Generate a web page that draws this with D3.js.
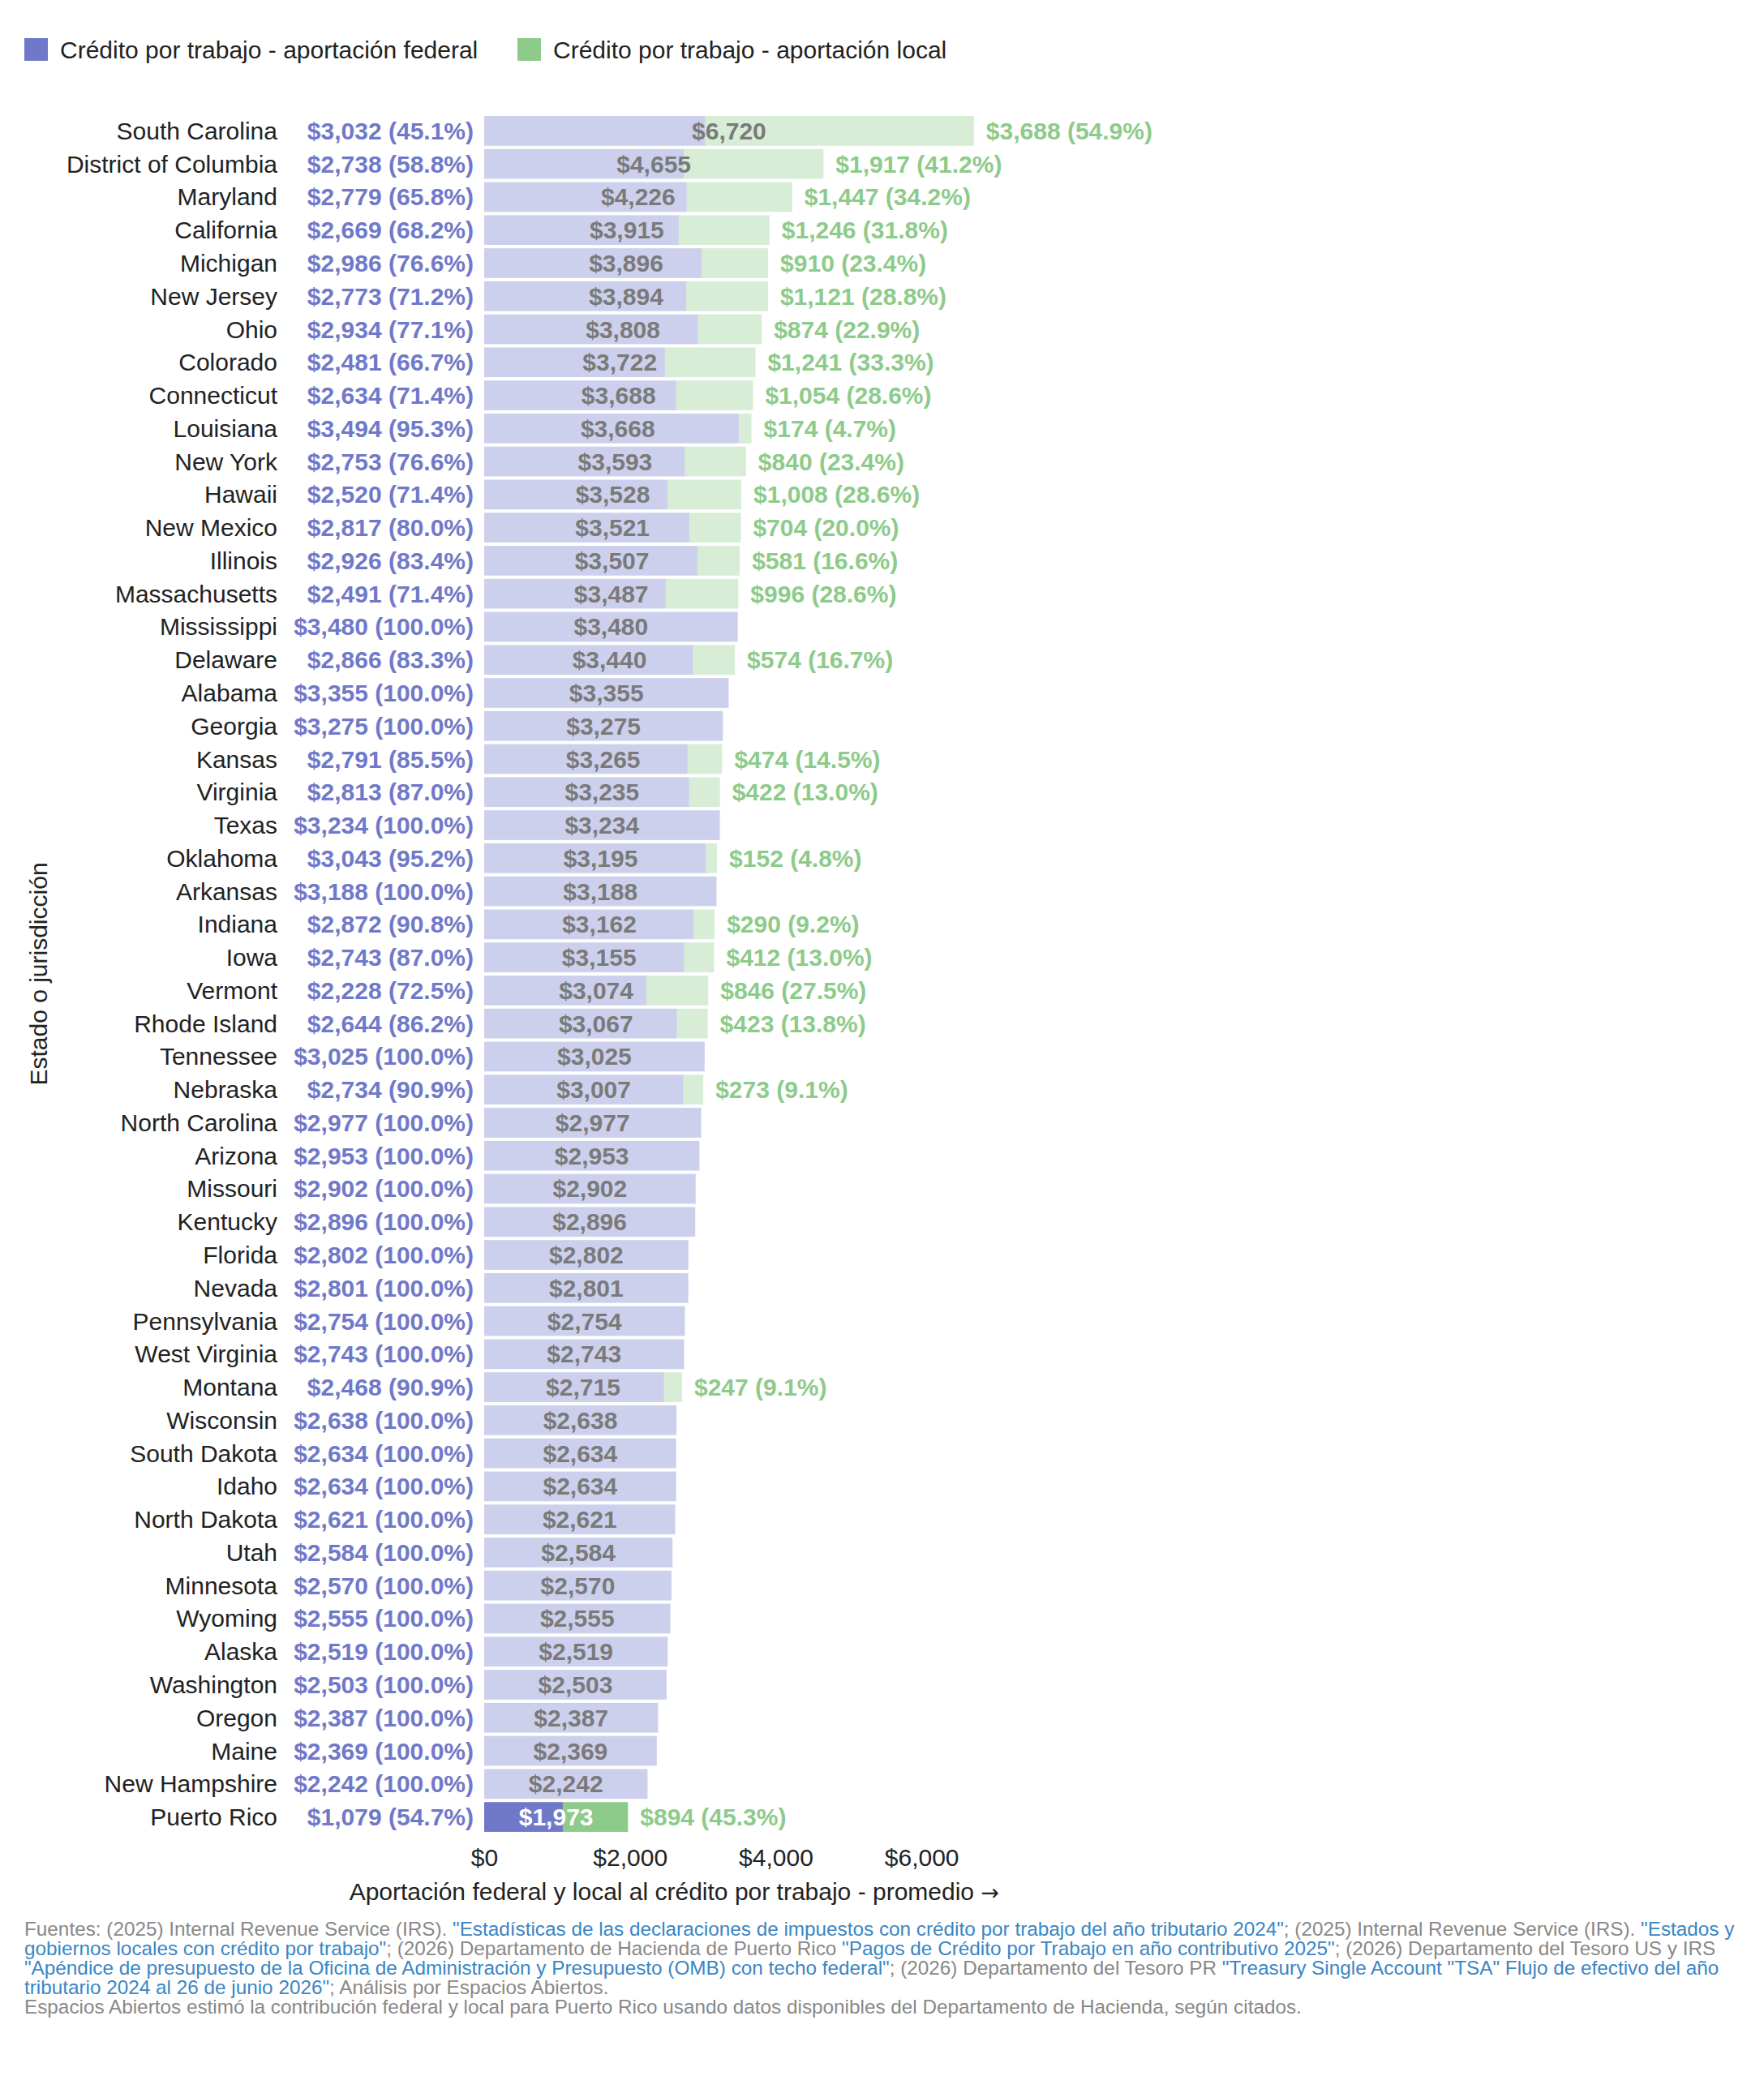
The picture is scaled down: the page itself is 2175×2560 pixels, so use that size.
<!DOCTYPE html>
<html>
<head>
<meta charset="utf-8">
<script src="https://cdn.jsdelivr.net/npm/d3@7"></script>
<style>
  body { margin: 0; background: #fff; }
  svg { font-family: "Liberation Sans", Arial, Helvetica, sans-serif; }
</style>
</head>
<body>
<svg id="chart" width="2175" height="2560"></svg>
<script>
// data (average credit per return, USD)
const states = ["South Carolina","District of Columbia","Maryland","California","Michigan","New Jersey","Ohio","Colorado","Connecticut","Louisiana","New York","Hawaii","New Mexico","Illinois","Massachusetts","Mississippi","Delaware","Alabama","Georgia","Kansas","Virginia","Texas","Oklahoma","Arkansas","Indiana","Iowa","Vermont","Rhode Island","Tennessee","Nebraska","North Carolina","Arizona","Missouri","Kentucky","Florida","Nevada","Pennsylvania","West Virginia","Montana","Wisconsin","South Dakota","Idaho","North Dakota","Utah","Minnesota","Wyoming","Alaska","Washington","Oregon","Maine","New Hampshire","Puerto Rico"];
const federal = [3032,2738,2779,2669,2986,2773,2934,2481,2634,3494,2753,2520,2817,2926,2491,3480,2866,3355,3275,2791,2813,3234,3043,3188,2872,2743,2228,2644,3025,2734,2977,2953,2902,2896,2802,2801,2754,2743,2468,2638,2634,2634,2621,2584,2570,2555,2519,2503,2387,2369,2242,1079];
const local = [3688,1917,1447,1246,910,1121,874,1241,1054,174,840,1008,704,581,996,0,574,0,0,474,422,0,152,0,290,412,846,423,0,273,0,0,0,0,0,0,0,0,247,0,0,0,0,0,0,0,0,0,0,0,0,894];
const federalPct = [45.1,58.8,65.8,68.2,76.6,71.2,77.1,66.7,71.4,95.3,76.6,71.4,80.0,83.4,71.4,100,83.3,100,100,85.5,87.0,100,95.2,100,90.8,87.0,72.5,86.2,100,90.9,100,100,100,100,100,100,100,100,90.9,100,100,100,100,100,100,100,100,100,100,100,100,54.7];
const highlight = "Puerto Rico";

const seriesNames = ["Crédito por trabajo - aportación federal", "Crédito por trabajo - aportación local"];
const seriesColors = ["#7079c9", "#8dcb8a"];

const xLabel = "Aportación federal y local al crédito por trabajo - promedio";
const yLabel = "Estado o jurisdicción";

const footerLines = [
  [["Fuentes: (2025) Internal Revenue Service (IRS). ", false], ["\"Estadísticas de las declaraciones de impuestos con crédito por trabajo del año tributario 2024\"", true], ["; (2025) Internal Revenue Service (IRS). ", false], ["\"Estados y", true]],
  [["gobiernos locales con crédito por trabajo\"", true], ["; (2026) Departamento de Hacienda de Puerto Rico ", false], ["\"Pagos de Crédito por Trabajo en año contributivo 2025\"", true], ["; (2026) Departamento del Tesoro US y IRS", false]],
  [["\"Apéndice de presupuesto de la Oficina de Administración y Presupuesto (OMB) con techo federal\"", true], ["; (2026) Departamento del Tesoro PR ", false], ["\"Treasury Single Account \"TSA\" Flujo de efectivo del año", true]],
  [["tributario 2024 al 26 de junio 2026\"", true], ["; Análisis por Espacios Abiertos.", false]],
  [["Espacios Abiertos estimó la contribución federal y local para Puerto Rico usando datos disponibles del Departamento de Hacienda, según citados.", false]]
];

const fontSize = 30;
const data = states.map((s, i) => ({
  state: s,
  federal: federal[i],
  local: local[i],
  total: federal[i] + local[i],
  fedPct: federalPct[i],
  on: s === highlight
}));

const svg = d3.select("#chart");
svg.append("rect").attr("width", 2175).attr("height", 2560).attr("fill", "#fff");

const x = d3.scaleLinear().domain([0, 7000]).range([597, 1226]);
const y = d3.scaleBand().domain(states).range([139, 2263]).padding(0.1);
const money = d3.format("$,");

// legend
const legend = svg.append("g").attr("font-size", fontSize);
const legendX = [30, 638];
seriesNames.forEach((name, i) => {
  legend.append("rect")
    .attr("x", legendX[i]).attr("y", 47)
    .attr("width", 29).attr("height", 28)
    .attr("fill", seriesColors[i]);
  legend.append("text")
    .attr("x", legendX[i] + 44).attr("y", 61)
    .attr("dy", "0.35em")
    .attr("fill", "#222")
    .text(name);
});

// bars
const rows = svg.append("g");
rows.selectAll("rect.fed")
  .data(data)
  .join("rect")
  .attr("class", "fed")
  .attr("x", x(0))
  .attr("y", d => y(d.state))
  .attr("width", d => x(d.federal) - x(0))
  .attr("height", y.bandwidth())
  .attr("fill", seriesColors[0])
  .attr("fill-opacity", d => d.on ? 1 : 0.35);

rows.selectAll("rect.loc")
  .data(data.filter(d => d.local > 0))
  .join("rect")
  .attr("class", "loc")
  .attr("x", d => x(d.federal))
  .attr("y", d => y(d.state))
  .attr("width", d => x(d.total) - x(d.federal))
  .attr("height", y.bandwidth())
  .attr("fill", seriesColors[1])
  .attr("fill-opacity", d => d.on ? 1 : 0.35);

const mid = d => y(d.state) + y.bandwidth() / 2;

// total in the middle of each bar
rows.selectAll("text.total")
  .data(data)
  .join("text")
  .attr("class", "total")
  .attr("x", d => x(d.total / 2))
  .attr("y", mid)
  .attr("dy", "0.35em")
  .attr("text-anchor", "middle")
  .attr("font-size", fontSize)
  .attr("font-weight", "bold")
  .attr("fill", d => d.on ? "#fff" : "#7a7a7a")
  .text(d => money(d.total));

// federal share, left of the bars
rows.selectAll("text.fedlabel")
  .data(data)
  .join("text")
  .attr("class", "fedlabel")
  .attr("x", 584)
  .attr("y", mid)
  .attr("dy", "0.35em")
  .attr("text-anchor", "end")
  .attr("font-size", fontSize)
  .attr("font-weight", "bold")
  .attr("fill", seriesColors[0])
  .text(d => `${money(d.federal)} (${d.fedPct.toFixed(1)}%)`);

// local share, right of the bars
rows.selectAll("text.loclabel")
  .data(data.filter(d => d.local > 0))
  .join("text")
  .attr("class", "loclabel")
  .attr("x", d => x(d.total) + 15)
  .attr("y", mid)
  .attr("dy", "0.35em")
  .attr("font-size", fontSize)
  .attr("font-weight", "bold")
  .attr("fill", seriesColors[1])
  .text(d => `${money(d.local)} (${(100 - d.fedPct).toFixed(1)}%)`);

// y axis (state names)
const yAxis = svg.append("g")
  .attr("transform", "translate(349,0)")
  .call(d3.axisLeft(y).tickSize(0).tickPadding(7));
yAxis.select(".domain").remove();
yAxis.attr("font-family", null).attr("font-size", fontSize);
yAxis.selectAll("text").attr("fill", "#222").attr("dy", "0.35em");

svg.append("text")
  .attr("transform", "translate(47,1201) rotate(-90)")
  .attr("text-anchor", "middle")
  .attr("dy", "0.35em")
  .attr("font-size", fontSize)
  .attr("fill", "#222")
  .text(yLabel);

// x axis
const xAxis = svg.append("g")
  .attr("transform", "translate(0,2272)")
  .call(d3.axisBottom(x).ticks(4).tickSize(0).tickPadding(8).tickFormat(money));
xAxis.select(".domain").remove();
xAxis.attr("font-family", null).attr("font-size", fontSize);
xAxis.selectAll("text").attr("fill", "#222");

const xTitle = svg.append("text")
  .attr("x", 1232)
  .attr("y", 2332)
  .attr("dy", "0.35em")
  .attr("text-anchor", "end")
  .attr("font-size", fontSize)
  .attr("fill", "#222");
xTitle.append("tspan").text(xLabel + " ");
xTitle.append("tspan").attr("font-family", "DejaVu Sans").attr("font-size", 27).text("→");

// footer
const footer = svg.append("g").attr("font-size", 24.3);
footerLines.forEach((segs, i) => {
  const t = footer.append("text")
    .attr("x", 30)
    .attr("y", 2387 + i * 24.1);
  segs.forEach(([txt, link]) => {
    t.append("tspan")
      .attr("fill", link ? "#3a86c4" : "#888")
      .text(txt);
  });
});
</script>
</body>
</html>
